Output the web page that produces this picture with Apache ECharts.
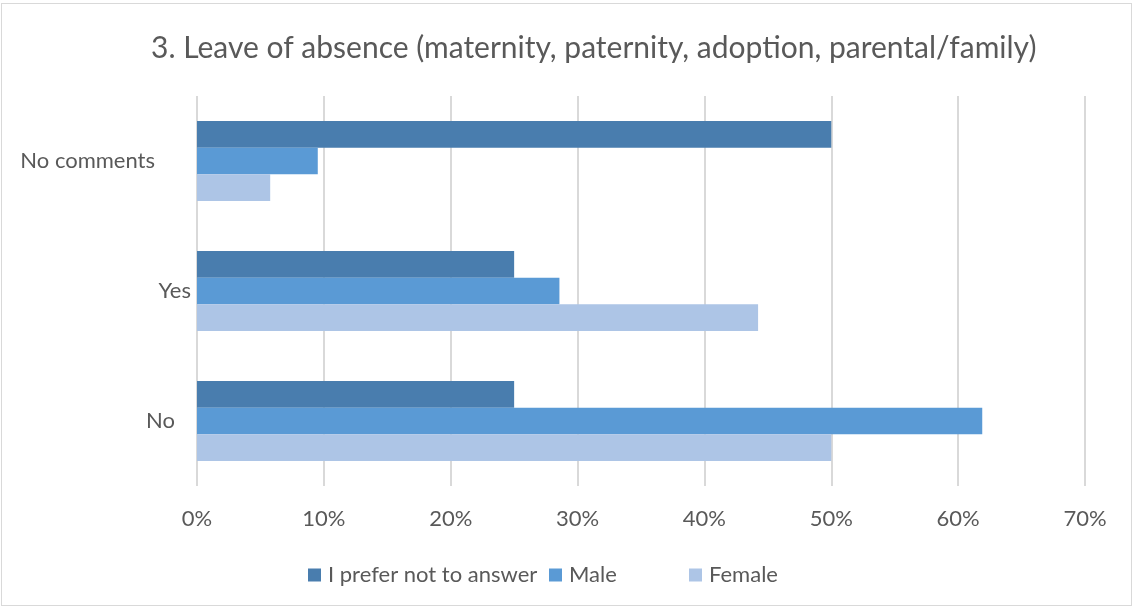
<!DOCTYPE html>
<html><head><meta charset="utf-8">
<script src="https://cdn.jsdelivr.net/npm/echarts@6/dist/echarts.min.js"></script>
<style>
html,body{margin:0;padding:0;background:#fff;}
#frame{position:absolute;left:1px;top:3px;width:1131px;height:603px;border:1px solid #d9d9d9;box-sizing:border-box;}
#c{position:absolute;left:0;top:0;width:1134px;height:608px;}
</style></head>
<body><div id="frame"></div><div id="c"></div>
<script>
const titleText = '3. Leave of absence (maternity, paternity, adoption, parental/family)';
const categories = ['No', 'Yes', 'No comments'];
const seriesNames = ['I prefer not to answer', 'Male', 'Female'];
const preferNot = [25, 25, 50];
const male = [61.9, 28.57, 9.52];
const female = [50, 44.23, 5.77];
const xTicks = [0, 10, 20, 30, 40, 50, 60, 70];

const colors = {'I prefer not to answer':'#497DAE','Male':'#5A9AD5','Female':'#ADC5E6'};
const labelPad = {'No':22,'Yes':6,'No comments':42};
const font = 'Lato, "Open Sans", sans-serif';
const txt = '#595959';

const chart = echarts.init(document.getElementById('c'));
const dataBy = {'I prefer not to answer':preferNot,'Male':male,'Female':female};
const legendLefts = {'I prefer not to answer':303,'Male':544,'Female':684};
chart.setOption({
  animation:false,
  title:{text:titleText,left:146,top:28,textStyle:{fontFamily:font,fontSize:30,fontWeight:'normal',color:txt}},
  legend: seriesNames.map(n=>({data:[n],left:legendLefts[n],top:559,itemWidth:13,itemHeight:13,itemGap:5,icon:'rect',
    textStyle:{fontFamily:font,fontSize:22,color:txt,padding:[0,0,0,2]}})),
  grid:{left:197,right:49,top:96,bottom:122,containLabel:false},
  xAxis:{type:'value',min:xTicks[0],max:xTicks[xTicks.length-1],interval:10,
    axisLine:{show:false},axisTick:{show:false},
    splitLine:{lineStyle:{color:'#d9d9d9',width:2}},
    axisLabel:{formatter:v=>v+'%',fontFamily:font,fontSize:22,color:txt,margin:22}},
  yAxis:{type:'category',data:categories,axisLine:{show:false},axisTick:{show:false},
    axisLabel:{fontFamily:font,fontSize:22,color:txt,margin:0,
      formatter:v=>'{p'+labelPad[v]+'|'+v+'}',
      rich:Object.fromEntries(Object.values(labelPad).map(p=>['p'+p,{padding:[0,p,0,0],fontFamily:font,fontSize:22,color:txt}]))}},
  series: seriesNames.map(n=>({name:n,type:'bar',data:dataBy[n],barGap:'0%',barCategoryGap:'38.5%',
    itemStyle:{color:colors[n]}}))
});
</script></body></html>
